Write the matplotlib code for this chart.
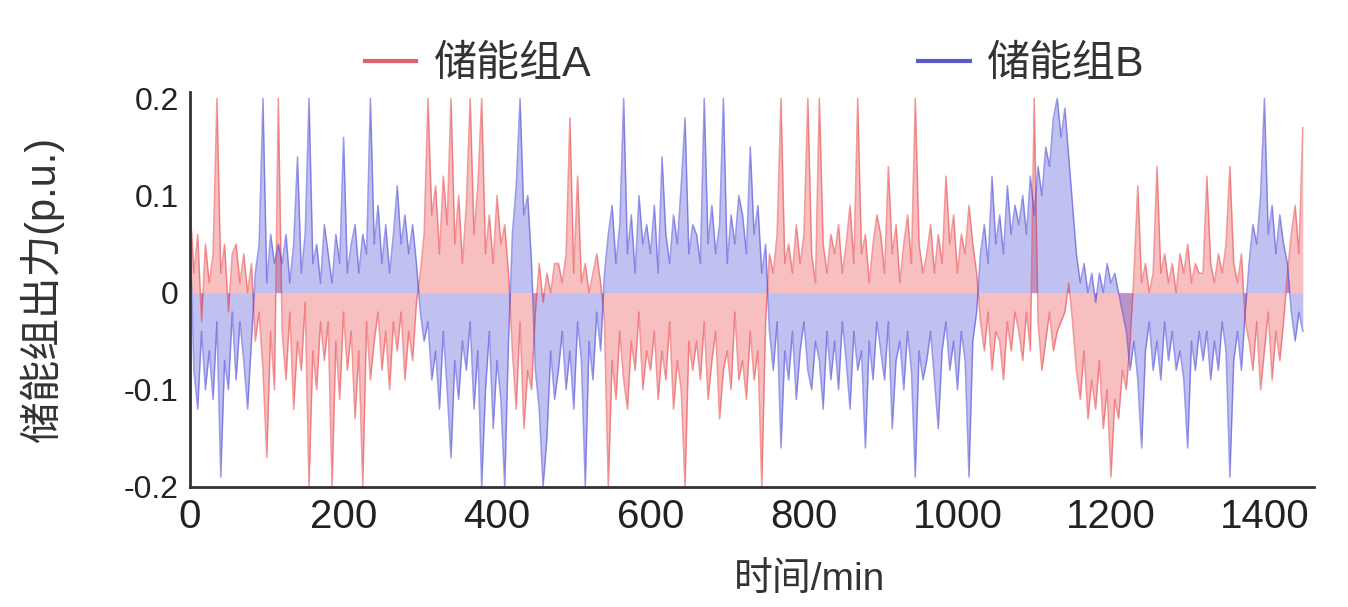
import numpy as np
import matplotlib
matplotlib.use('Agg')
import matplotlib.pyplot as plt

plt.rcParams['font.family'] = ['Liberation Sans', 'Noto Sans CJK SC']
plt.rcParams['axes.unicode_minus'] = False

# 时间 (min), 每5分钟读一个点
t = np.arange(0, 1451, 5)

# 储能组A 出力 (p.u.)
p_a = [
    0.09, 0.02, 0.06, -0.03, 0.05, 0.01, 0.04, 0.20, 0.02, 0.05, -0.02, 0.04,
    0.05, 0.01, 0.04, 0.00, 0.03, -0.05, -0.02, -0.08, -0.17, -0.04, -0.10, 0.20,
    -0.04, -0.09, -0.02, -0.12, -0.05, -0.08, -0.01, -0.20, -0.06, -0.10, -0.03, -0.07,
    -0.03, -0.20, -0.05, -0.11, -0.02, -0.08, -0.04, -0.13, -0.06, -0.20, -0.03, -0.09,
    -0.05, -0.02, -0.08, -0.04, -0.10, -0.03, -0.06, -0.02, -0.09, -0.04, -0.07, -0.01,
    0.02, 0.06, 0.20, 0.08, 0.11, 0.04, 0.12, 0.07, 0.20, 0.05, 0.10, 0.03,
    0.09, 0.20, 0.06, 0.11, 0.20, 0.04, 0.08, 0.03, 0.10, 0.05, 0.07, 0.02,
    -0.06, -0.12, -0.03, -0.14, -0.08, -0.10, -0.02, 0.03, -0.01, 0.02, 0.00, 0.03,
    0.03, 0.01, 0.04, 0.18, 0.02, 0.12, 0.01, 0.03, 0.00, 0.02, 0.04, 0.01,
    -0.03, -0.20, -0.07, -0.11, -0.04, -0.09, -0.12, -0.05, -0.08, -0.02, -0.10, -0.06,
    -0.08, -0.04, -0.11, -0.06, -0.09, -0.03, -0.12, -0.07, -0.10, -0.20, -0.05, -0.08,
    -0.05, -0.09, -0.03, -0.11, -0.07, -0.04, -0.13, -0.08, -0.06, -0.10, -0.02, -0.09,
    -0.07, -0.11, -0.04, -0.09, -0.06, -0.20, -0.03, 0.04, 0.02, 0.06, 0.20, 0.03,
    0.05, 0.02, 0.07, 0.03, 0.06, 0.20, 0.04, 0.01, 0.20, 0.05, 0.02, 0.06,
    0.04, 0.07, 0.02, 0.05, 0.09, 0.03, 0.20, 0.04, 0.06, 0.01, 0.05, 0.08,
    0.06, 0.02, 0.13, 0.04, 0.07, 0.01, 0.05, 0.08, 0.03, 0.20, 0.05, 0.02,
    0.04, 0.07, 0.02, 0.06, 0.03, 0.12, 0.05, 0.08, 0.02, 0.06, 0.04, 0.09,
    0.05, 0.02, -0.03, -0.06, -0.02, -0.08, -0.04, -0.05, -0.09, -0.03, -0.06, -0.02,
    -0.04, -0.07, -0.02, -0.06, 0.20, -0.03, -0.08, -0.05, -0.02, -0.06, -0.04, -0.03,
    -0.02, 0.01, -0.03, -0.08, -0.11, -0.06, -0.13, -0.09, -0.12, -0.07, -0.14, -0.10,
    -0.19, -0.11, -0.13, -0.08, -0.10, -0.05, 0.02, 0.11, 0.01, 0.03, 0.00, 0.02,
    0.13, 0.02, 0.04, 0.01, 0.03, 0.00, 0.04, 0.02, 0.05, 0.01, 0.03, 0.02,
    0.02, 0.12, 0.03, 0.01, 0.04, 0.02, 0.05, 0.13, 0.03, 0.01, 0.04, -0.03,
    -0.05, -0.08, -0.03, -0.10, -0.06, -0.02, -0.09, -0.04, -0.07, -0.03, 0.02, 0.06,
    0.09, 0.04, 0.17,
]

# 储能组B 出力 (p.u.)
p_b = [
    0.06, -0.08, -0.12, -0.04, -0.10, -0.06, -0.11, -0.03, -0.19, -0.07, -0.10, -0.02,
    -0.09, -0.03, -0.07, -0.12, -0.05, 0.02, 0.05, 0.20, 0.01, 0.06, 0.03, 0.05,
    0.03, 0.06, 0.01, 0.05, 0.14, 0.02, 0.06, 0.20, 0.03, 0.05, 0.01, 0.07,
    0.04, 0.01, 0.06, 0.03, 0.16, 0.02, 0.05, 0.07, 0.02, 0.06, 0.04, 0.20,
    0.05, 0.09, 0.03, 0.07, 0.02, 0.06, 0.11, 0.05, 0.08, 0.04, 0.07, 0.03,
    -0.02, -0.05, -0.03, -0.09, -0.06, -0.12, -0.04, -0.10, -0.17, -0.07, -0.11, -0.05,
    -0.08, -0.03, -0.12, -0.06, -0.20, -0.10, -0.04, -0.14, -0.07, -0.11, -0.20, -0.05,
    0.06, 0.11, 0.20, 0.08, 0.10, 0.03, -0.08, -0.12, -0.20, -0.15, -0.06, -0.11,
    -0.08, -0.04, -0.10, -0.06, -0.12, -0.03, -0.07, -0.20, -0.05, -0.09, -0.02, -0.06,
    0.02, 0.06, 0.09, 0.03, 0.07, 0.20, 0.04, 0.08, 0.02, 0.10, 0.05, 0.07,
    0.04, 0.09, 0.02, 0.14, 0.06, 0.03, 0.08, 0.05, 0.11, 0.18, 0.04, 0.07,
    0.06, 0.03, 0.20, 0.05, 0.09, 0.04, 0.07, 0.20, 0.03, 0.08, 0.05, 0.10,
    0.08, 0.04, 0.15, 0.06, 0.09, 0.02, 0.05, -0.04, -0.08, -0.03, -0.16, -0.06,
    -0.09, -0.04, -0.11, -0.06, -0.03, -0.08, -0.10, -0.05, -0.07, -0.12, -0.04, -0.09,
    -0.05, -0.10, -0.03, -0.07, -0.12, -0.04, -0.08, -0.06, -0.16, -0.05, -0.09, -0.03,
    -0.06, -0.09, -0.03, -0.14, -0.07, -0.05, -0.10, -0.04, -0.08, -0.19, -0.06, -0.09,
    -0.07, -0.04, -0.09, -0.14, -0.06, -0.03, -0.08, -0.05, -0.10, -0.04, -0.07, -0.19,
    -0.05, -0.02, 0.04, 0.07, 0.03, 0.12, 0.05, 0.08, 0.04, 0.11, 0.06, 0.09,
    0.07, 0.10, 0.06, 0.12, 0.08, 0.13, 0.10, 0.15, 0.13, 0.18, 0.20, 0.16,
    0.19, 0.14, 0.09, 0.04, 0.01, 0.03, 0.00, 0.02, -0.01, 0.02, 0.00, 0.03,
    0.01, 0.02, 0.00, -0.02, -0.04, -0.08, -0.05, -0.09, -0.16, -0.06, -0.03, -0.08,
    -0.05, -0.09, -0.03, -0.07, -0.04, -0.08, -0.06, -0.09, -0.16, -0.05, -0.08, -0.04,
    -0.07, -0.04, -0.09, -0.05, -0.08, -0.03, -0.06, -0.19, -0.07, -0.04, -0.08, -0.02,
    0.03, 0.07, 0.05, 0.10, 0.20, 0.06, 0.09, 0.04, 0.08, 0.05, 0.03, -0.02,
    -0.05, -0.02, -0.04,
]

labels = ['储能组A', '储能组B']
red = '#e8383d'
blue = '#3c3cd6'

fig = plt.figure(figsize=(13.48, 6.07), dpi=100)
ax = fig.add_axes([0.141, 0.198, 0.834, 0.651])

# 曲线下方填充，模拟原图中密集曲线形成的色带
ax.fill_between(t, 0, p_a, color=red, alpha=0.32, lw=0)
ax.fill_between(t, 0, p_b, color=blue, alpha=0.32, lw=0)
ax.plot(t, p_a, color=red, lw=1.1, alpha=0.5)
ax.plot(t, p_b, color=blue, lw=1.1, alpha=0.5)

ax.set_xlim(0, 1465)
ax.set_ylim(-0.2, 0.207)
ax.set_xticks([0, 200, 400, 600, 800, 1000, 1200, 1400])
ax.set_yticks([-0.2, -0.1, 0, 0.1, 0.2])
ax.set_yticklabels(['-0.2', '-0.1', '0', '0.1', '0.2'])
ax.tick_params(axis='x', length=0, labelsize=29, pad=8, colors='#222222')
ax.tick_params(axis='y', length=0, labelsize=23, pad=8, colors='#222222')

for s in ['top', 'right']:
    ax.spines[s].set_visible(False)
for s in ['left', 'bottom']:
    ax.spines[s].set_linewidth(2)
    ax.spines[s].set_color('#333333')

ax.set_ylabel('储能组出力(p.u.)', fontsize=30, color='#333333')
ax.yaxis.set_label_coords(-0.112, 0.5)
ax.set_xlabel('时间/min', fontsize=28, color='#333333')
ax.xaxis.set_label_coords(0.551, -0.19)

h1, = ax.plot([], [], color='#e06070', lw=3)
h2, = ax.plot([], [], color='#5a5ac8', lw=3)
fig.legend([h1, h2], labels, loc='center', bbox_to_anchor=(0.56, 0.893),
           ncol=2, frameon=False, fontsize=31, handlelength=1.2,
           handletextpad=0.4, columnspacing=7.6, labelcolor='#333333')

fig.savefig('out.png', dpi=100)
